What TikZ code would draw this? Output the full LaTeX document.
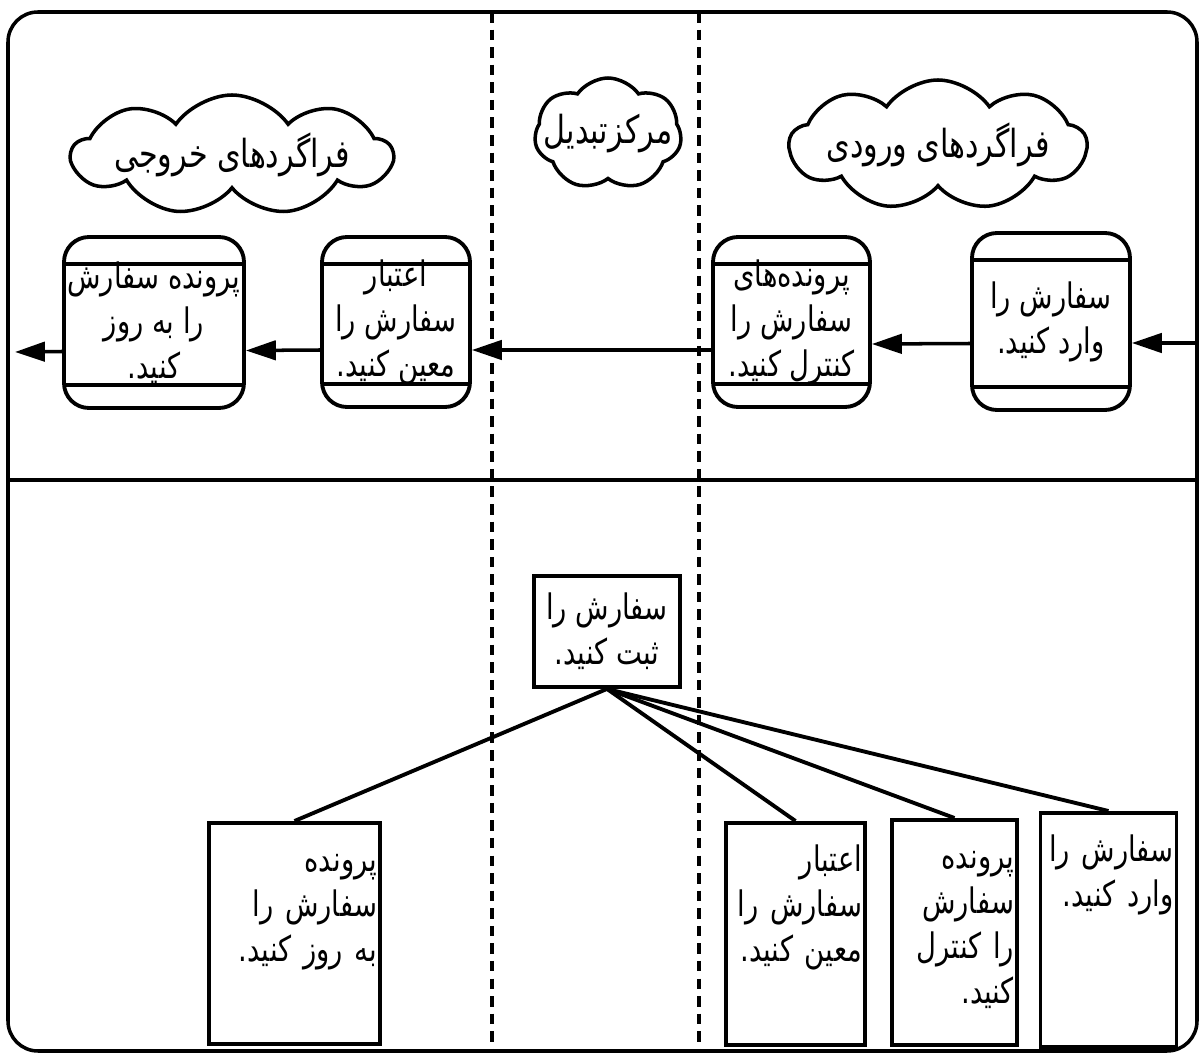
\documentclass[tikz,border=0pt]{standalone}
\usepackage{fontspec}
\usetikzlibrary{arrows.meta, shapes.symbols}
\newfontfamily\farsi[Script=Arabic, FakeStretch=0.78]{DejaVu Sans}
\TeXXeTstate=1
\newcommand\fa[1]{\beginR #1\endR}

\tikzset{
  procbox/.style={draw, line width=1.1pt, rounded corners=0.25cm, minimum height=1.7cm,
    align=center, inner sep=1pt,
    path picture={
      \draw[line width=1.1pt] ([yshift=-0.27cm]path picture bounding box.north west)
        -- ([yshift=-0.27cm]path picture bounding box.north east);
      \draw[line width=1.1pt] ([yshift=0.23cm]path picture bounding box.south west)
        -- ([yshift=0.23cm]path picture bounding box.south east);}},
  leafbox/.style={draw, line width=1.1pt, anchor=north, align=right, inner xsep=0.03cm, inner ysep=0.14cm,
    text height=0.35cm, text depth=1.6cm},
  bubble/.style={cloud, draw, line width=1pt, cloud ignores aspect, cloud puffs=9, cloud puff arc=110,
    inner xsep=-0.35cm, inner ysep=-0.05cm, font=\farsi\fontsize{11}{13}\selectfont},
  flow/.style={line width=1pt, -{Triangle[length=8.5pt, width=5.5pt]}},
  lane/.style={line width=0.9pt, dash pattern=on 3pt off 2pt},
}

\begin{document}
\begin{tikzpicture}[font=\farsi\fontsize{10}{12.8}\selectfont]
  \useasboundingbox (0,0) rectangle (12,-10.54);

  % frame and lanes
  \draw[line width=1pt, rounded corners=0.3cm] (0.08,-0.12) rectangle (11.97,-10.51);
  \draw[line width=1pt] (0.08,-4.8) -- (11.97,-4.8);
  \draw[lane] (4.92,-0.12) -- (4.92,-10.51);
  \draw[lane] (6.99,-0.12) -- (6.99,-10.51);

  % lane titles
  \node[bubble, minimum width=3.2cm, minimum height=1.2cm] (outproc) at (2.32,-1.55) {\fa{فراگردهای خروجی}};
  \node[bubble, minimum width=1.47cm, minimum height=1.12cm, cloud puffs=7, inner xsep=-0.15cm] (convert) at (6.08,-1.34) {\fa{مرکزتبدیل}};
  \node[bubble, minimum width=2.97cm, minimum height=1.3cm] (inproc) at (9.38,-1.45) {\fa{فراگردهای ورودی}};

  % upper half: processes in sequence
  \node[procbox, minimum width=1.72cm, minimum height=1.71cm] (upd) at (1.54,-3.225) {\fa{پرونده سفارش}\\\fa{را به روز}\\\fa{کنید.}};
  \node[procbox, minimum width=1.48cm] (val) at (3.96,-3.22) {\fa{اعتبار}\\\fa{سفارش را}\\\fa{معین کنید.}};
  \node[procbox, minimum width=1.57cm] (chk) at (7.915,-3.22) {\fa{پرونده‌های}\\\fa{سفارش را}\\\fa{کنترل کنید.}};
  \node[procbox, minimum width=1.58cm, minimum height=1.77cm] (ent) at (10.51,-3.215) {\fa{سفارش را}\\\fa{وارد کنید.}};

  \coordinate (entry) at (11.97,-3.43);
  \coordinate (exit) at (0.15,-3.52);
  \draw[flow] (entry) -- (entry -| ent.east);
  \draw[flow] ([yshift=-2.2mm]ent.west) -- ([yshift=-2.2mm]chk.east);
  \draw[flow] ([yshift=-2.8mm]chk.west) -- ([yshift=-2.8mm]val.east);
  \draw[flow] ([yshift=-2.8mm]val.west) -- ([yshift=-2.8mm]upd.east);
  \draw[flow] ([yshift=-2.9mm]upd.west) -- (exit);

  % lower half: the same steps as parts of one
  \node[draw, line width=1.1pt, align=center, minimum width=1.46cm, minimum height=1.11cm] (reg) at (6.07,-6.315) {\fa{سفارش را}\\\fa{ثبت کنید.}};
  \node[leafbox, text width=1.65cm, text depth=1.58cm] (lupd) at (2.945,-8.21) {\fa{پرونده}\\\fa{سفارش را}\\\fa{به روز کنید.}};
  \node[leafbox, text width=1.33cm, text depth=1.59cm] (lval) at (7.955,-8.21) {\fa{اعتبار}\\\fa{سفارش را}\\\fa{معین کنید.}};
  \node[leafbox, text width=1.19cm, text depth=1.62cm] (lchk) at (9.545,-8.18) {\fa{پرونده}\\\fa{سفارش}\\\fa{را کنترل}\\\fa{کنید.}};
  \node[leafbox, text width=1.3cm, text depth=1.71cm] (lent) at (11.085,-8.11) {\fa{سفارش را}\\\fa{وارد کنید.}};

  \draw[line width=1.1pt] (reg.south) -- (lupd.north);
  \draw[line width=1.1pt] (reg.south) -- (lval.north);
  \draw[line width=1.1pt] (reg.south) -- (lchk.north);
  \draw[line width=1.1pt] (reg.south) -- (lent.north);
\end{tikzpicture}
\end{document}
